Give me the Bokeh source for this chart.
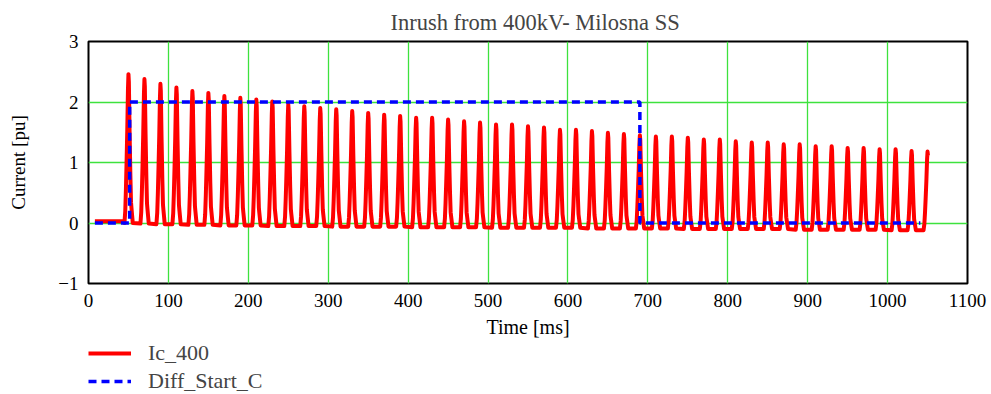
import numpy as np
from bokeh.plotting import figure
from bokeh.layouts import column
from bokeh.models import FixedTicker, Legend, LegendItem, ColumnDataSource, Range1d
from bokeh.embed import file_html
from bokeh.resources import INLINE

# ---- data ----
peak_times = [50, 70, 90, 110, 130, 150, 170, 190, 210, 230, 250, 270, 290, 310, 330, 350,
              370, 390, 410, 430, 450, 470, 490, 510, 530, 550, 570, 590, 610, 630, 650, 670,
              690, 710, 730, 750, 770, 790, 810, 830, 850, 870, 890, 910, 930, 950, 970, 990,
              1010, 1030, 1050]
peak_values = [2.46, 2.38, 2.30, 2.24, 2.18, 2.15, 2.10, 2.07, 2.04, 2.01, 1.96, 1.93, 1.90, 1.88, 1.85, 1.82,
               1.79, 1.77, 1.74, 1.74, 1.71, 1.68, 1.66, 1.63, 1.63, 1.60, 1.58, 1.54, 1.54, 1.52, 1.49, 1.47,
               1.45, 1.43, 1.43, 1.41, 1.38, 1.38, 1.35, 1.33, 1.33, 1.30, 1.30, 1.27, 1.27, 1.24, 1.24, 1.22,
               1.22, 1.19, 1.18]
base_values = [0.0, -0.01, -0.02, -0.02, -0.03, -0.03, -0.04, -0.04, -0.04, -0.05,
               -0.05, -0.05, -0.05, -0.06, -0.06, -0.06, -0.06, -0.06, -0.07, -0.07,
               -0.07, -0.07, -0.07, -0.08, -0.08, -0.08, -0.08, -0.08, -0.08, -0.09,
               -0.09, -0.09, -0.09, -0.09, -0.09, -0.10, -0.10, -0.10, -0.10, -0.10,
               -0.10, -0.10, -0.11, -0.11, -0.11, -0.11, -0.11, -0.11, -0.12, -0.12, -0.12]
# pulse shape: offset from peak [ms] and fraction of the pulse height
pulse_dt = [-5.0, -4.0, -3.2, -2.4, -1.5, -0.6, 0.0, 0.5, 1.4, 2.4, 3.2, 3.8, 4.6, 5.4]
pulse_frac = [0.0, 0.08, 0.22, 0.4, 0.62, 0.9, 1.0, 0.95, 0.62, 0.32, 0.14, 0.1, 0.05, 0.0]
pre_t = [8, 45]
pre_v = [0.03, 0.03]
end_time = 1050.6
end_t = [1051.2]
end_v = [1.12]

diff_t = [8, 51.5, 51.5, 690, 690, 1041]
diff_v = [0, 0, 2, 2, 0, 0]

x_ticks = [0, 100, 200, 300, 400, 500, 600, 700, 800, 900, 1000, 1100]
y_ticks = [-1, 0, 1, 2, 3]

# ---- build the Ic_400 trace ----
ts = list(pre_t)
vs = list(pre_v)
for pt, pv, bv in zip(peak_times, peak_values, base_values):
    for dt, fr in zip(pulse_dt, pulse_frac):
        t = pt + dt
        if t > end_time:
            break
        ts.append(t)
        vs.append(bv + fr * (pv - bv))
ts += end_t
vs += end_v

FONT = "Liberation Serif"
GREEN = "#3de23d"
RED_STYLE = dict(line_color="#ff0000", line_width=4, line_join="round")
BLUE_STYLE = dict(line_color="#0000ff", line_width=3.5, line_dash="8 5")

p = figure(width=991, height=340, x_range=(0, 1100), y_range=(-1, 3),
           output_backend="svg", toolbar_location=None,
           min_border_left=88, min_border_right=24, min_border_top=39, min_border_bottom=57)

p.title.text = "Inrush from 400kV- Milosna SS"
p.title.align = "left"
p.title.offset = 302
p.title.text_font = FONT
p.title.text_font_style = "normal"
p.title.text_font_size = "22.5px"
p.title.standoff = 14

p.outline_line_color = "black"
p.outline_line_width = 2
p.outline_line_alpha = 1

for ax in (p.xaxis[0], p.yaxis[0]):
    ax.axis_line_color = None
    ax.major_tick_line_color = None
    ax.minor_tick_line_color = None
    ax.major_tick_out = 0
    ax.major_tick_in = 0
    ax.major_label_text_font = FONT
    ax.major_label_text_font_size = "19px"
    ax.major_label_text_color = "black"
    ax.axis_label_text_font = FONT
    ax.axis_label_text_font_style = "normal"
    ax.axis_label_text_color = "black"

p.xaxis.ticker = FixedTicker(ticks=x_ticks)
p.yaxis.ticker = FixedTicker(ticks=y_ticks)
p.yaxis.major_label_overrides = {-1: "\u22121"}
p.xaxis.axis_label = "Time [ms]"
p.yaxis.axis_label = "Current [pu]"
p.xaxis.axis_label_text_font_size = "20px"
p.yaxis.axis_label_text_font_size = "19px"
p.xaxis.major_label_standoff = 10
p.xaxis.axis_label_standoff = 6
p.yaxis.major_label_standoff = 10
p.yaxis.axis_label_standoff = 26

p.xgrid.ticker = FixedTicker(ticks=x_ticks[1:-1])
p.ygrid.ticker = FixedTicker(ticks=y_ticks[1:-1])
p.xgrid.grid_line_color = GREEN
p.ygrid.grid_line_color = GREEN
p.xgrid.grid_line_width = 1.3
p.ygrid.grid_line_width = 1.3

src_ic = ColumnDataSource(dict(t=ts, v=vs))
src_diff = ColumnDataSource(dict(t=diff_t, v=diff_v))
p.line("t", "v", source=src_ic, **RED_STYLE)
p.line("t", "v", source=src_diff, **BLUE_STYLE)

# ---- legend strip below the chart (its ranges show none of the data) ----
lg = figure(width=991, height=54, x_range=Range1d(-2, -1), y_range=Range1d(-2, -1),
            output_backend="svg", toolbar_location=None,
            x_axis_location=None, y_axis_location=None,
            min_border_left=87, min_border_right=0, min_border_top=0, min_border_bottom=0)
lg.outline_line_color = None
lg.xgrid.visible = False
lg.ygrid.visible = False
l1 = lg.line("t", "v", source=src_ic, **RED_STYLE)
l2 = lg.line("t", "v", source=src_diff, **BLUE_STYLE)

legend = Legend(items=[LegendItem(label="Ic_400", renderers=[l1]),
                       LegendItem(label="Diff_Start_C", renderers=[l2])],
                location="top_left", orientation="vertical")
legend.label_text_font = FONT
legend.label_text_font_size = "22px"
legend.glyph_width = 43
legend.glyph_height = 24
legend.label_height = 24
legend.label_standoff = 17
legend.spacing = 2
legend.padding = 0
legend.margin = 0
legend.border_line_color = None
legend.background_fill_alpha = 0
lg.add_layout(legend, "center")

layout = column(p, lg, spacing=0)
open("out.html", "w").write(file_html(layout, INLINE))
